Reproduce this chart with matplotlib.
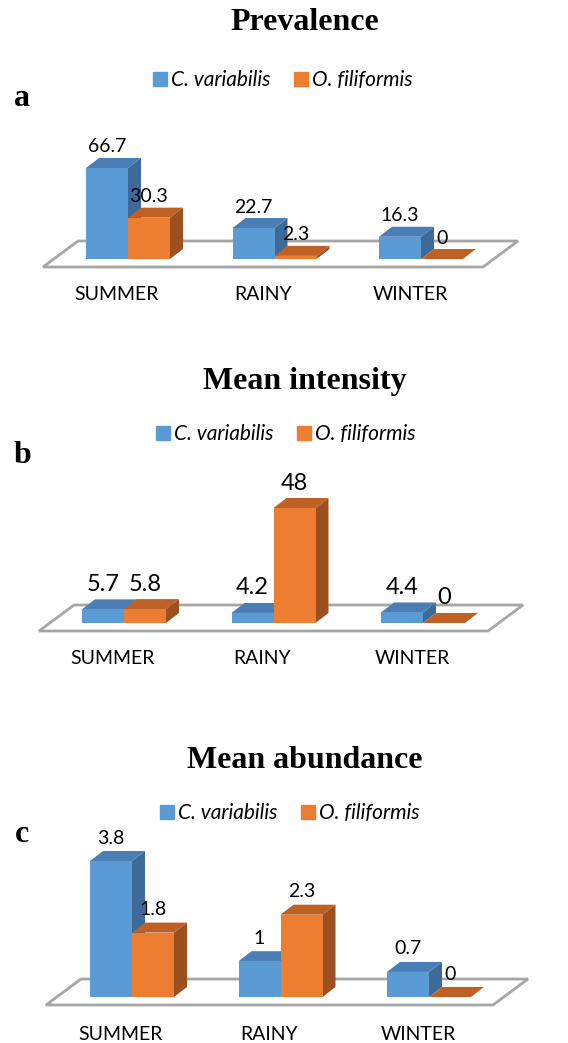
import matplotlib.pyplot as plt
from matplotlib.patches import Polygon, Patch

# data
seasons = ["SUMMER", "RAINY", "WINTER"]
species = ["C. variabilis", "O. filiformis"]

prevalence_cv = [66.7, 22.7, 16.3]
prevalence_of = [30.3, 2.3, 0]
intensity_cv = [5.7, 4.2, 4.4]
intensity_of = [5.8, 48, 0]
abundance_cv = [3.8, 1, 0.7]
abundance_of = [1.8, 2.3, 0]

blue, blue_top, blue_side = "#5B9BD5", "#4A7EB5", "#3D6A97"
orange, orange_top, orange_side = "#ED7D31", "#BF6024", "#9C4F1F"

W, H = 568, 1043
PT = 0.72  # px -> points at dpi 100

fig = plt.figure(figsize=(W / 100, H / 100), dpi=100)


def bar3d(ax, x0, h, w, ddx, ddy, front, topc, side):
    ax.add_patch(Polygon([(x0 + w, 0), (x0 + w + ddx, ddy), (x0 + w + ddx, h + ddy), (x0 + w, h)],
                         closed=True, facecolor=side, lw=0, zorder=3))
    ax.add_patch(Polygon([(x0, h), (x0 + ddx, h + ddy), (x0 + w + ddx, h + ddy), (x0 + w, h)],
                         closed=True, facecolor=topc, lw=0, zorder=3))
    ax.bar(x0, h, w, align="edge", color=front, lw=0, zorder=3)


def panel(title, letter, cv, of, top, bottom, base, tall_px, cx0, step,
          floor_l, floor_r, title_y, legend_x, legend_y, lab_off, lab_size, cat_off):
    scale = tall_px / max(cv + of)
    ax = fig.add_axes([0, 1 - bottom / H, 1, (bottom - top) / H])
    ax.set_xlim(-cx0 / step, (W - cx0) / step)
    ax.set_ylim(-(bottom - base) / scale, (base - top) / scale)
    ax.axis("off")

    w = 42 / step
    ddx, ddy = 13 / step, 10 / scale

    # floor
    fl, fr = (floor_l - cx0) / step, (floor_r - cx0) / step
    bdx = 35 / step
    fy0, fy1 = -8 / scale, 18 / scale
    ax.add_patch(Polygon([(fl, fy0), (fr, fy0), (fr + bdx, fy1), (fl + bdx, fy1)], closed=True,
                         facecolor="white", edgecolor="#A6A6A6", lw=2, zorder=1))

    for i in range(len(seasons)):
        bar3d(ax, i - w, cv[i], w, ddx, ddy, blue, blue_top, blue_side)
        bar3d(ax, i, of[i], w, ddx, ddy, orange, orange_top, orange_side)
        for x0, v in [(i - w, cv[i]), (i, of[i])]:
            ax.annotate(f"{v:g}", (x0 + w / 2, v), xytext=(0, lab_off * PT), textcoords="offset points",
                        ha="center", va="center", fontsize=lab_size, family="Lato", zorder=5)
        ax.annotate(seasons[i], (i, 0), xytext=(-11 * PT, -cat_off * PT), textcoords="offset points",
                    ha="center", va="center", fontsize=14, family="Lato")

    fig.text(305 / W, 1 - title_y / H, title, ha="center", va="center", fontsize=23,
             family="Liberation Serif", weight="bold")
    fig.text(22 / W, 1 - (title_y + 75) / H, letter, ha="center", va="center", fontsize=23,
             family="Liberation Serif", weight="bold")

    handles = [Patch(color=blue), Patch(color=orange)]
    fig.legend(handles, species, loc="center", bbox_to_anchor=(legend_x / W, 1 - legend_y / H),
               ncol=2, frameon=False, handlelength=0.67, handleheight=0.67, handletextpad=0.2,
               columnspacing=1.1, prop={"family": "Lato", "style": "italic", "size": 15})


panel("Prevalence", "a", prevalence_cv, prevalence_of, 100, 320, 259, 91, 128, 146.5,
      43, 483, 23, 283, 80, 21, 14, 36)
panel("Mean intensity", "b", intensity_cv, intensity_of, 450, 690, 623, 115, 124, 149.5,
      39, 488, 381, 286, 434, 25, 17, 35)
panel("Mean abundance", "c", abundance_cv, abundance_of, 826, 1043, 997, 136, 132, 148.5,
      46, 493, 760, 290, 813, 23, 14, 38)

fig.savefig("out.png", dpi=100)
